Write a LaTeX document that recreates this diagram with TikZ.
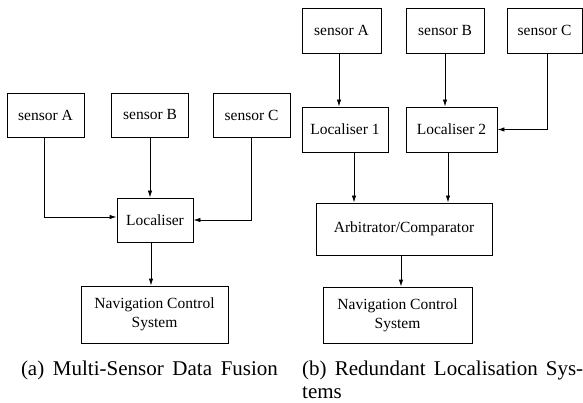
\documentclass[tikz,border=0pt]{standalone}
\usepackage{fontspec}
\setmainfont{Liberation Serif}
\usetikzlibrary{arrows.meta,calc}
\begin{document}
\begin{tikzpicture}[x=1pt,y=-1pt,
  box/.style={draw, line width=0.9pt, inner sep=0pt, font=\fontsize{15.5}{19}\selectfont, align=center},
  conn/.style={draw, line width=0.9pt, -{Latex[length=7pt,width=4.5pt]}},
  captext/.style={inner sep=0pt, font=\fontsize{21}{23.5}\selectfont}
]
\useasboundingbox (0,0) rectangle (583,403);
% (a) Multi-Sensor Data Fusion
\node[box, minimum width=77pt, minimum height=44pt] (lsa) at (45.5,115) {sensor A};
\node[box, minimum width=77pt, minimum height=44pt] (lsb) at (150,115) {sensor B};
\node[box, minimum width=77pt, minimum height=44pt] (lsc) at (251.5,115) {sensor C};
\node[box, minimum width=76pt, minimum height=44pt] (loc) at (155,220) {Localiser};
\node[box, minimum width=147pt, minimum height=57pt] (lncs) at (154.5,314.5) {Navigation Control\\System};
\draw[conn] ([xshift=-1.5pt]lsa.south) |- ([yshift=3pt]loc.west);
\draw[conn] (lsb.south) -- (lsb.south |- loc.north);
\draw[conn] (lsc.south) |- (loc.east);
\draw[conn] ([xshift=-4pt]loc.south) -- ([xshift=-4pt]loc.south |- lncs.north);
% (b) Redundant Localisation Systems
\node[box, minimum width=79pt, minimum height=45pt] (rsa) at (341.5,30.5) {sensor A};
\node[box, minimum width=78pt, minimum height=45pt] (rsb) at (445,30.5) {sensor B};
\node[box, minimum width=75pt, minimum height=45pt] (rsc) at (544.5,30.5) {sensor C};
\node[box, minimum width=86pt, minimum height=45pt] (l1) at (345,129.5) {Localiser 1};
\node[box, minimum width=91pt, minimum height=45pt] (l2) at (451.5,129.5) {Localiser 2};
\node[box, minimum width=176pt, minimum height=52pt] (arb) at (404,229) {Arbitrator/Comparator};
\node[box, minimum width=149pt, minimum height=56pt] (rncs) at (397.5,315) {Navigation Control\\System};
\draw[conn] ([xshift=-2.5pt]rsa.south) -- ([xshift=-2.5pt]rsa.south |- l1.north);
\draw[conn] (rsb.south) -- (rsb.south |- l2.north);
\draw[conn] ([xshift=2.5pt]rsc.south) |- (l2.east);
\draw[conn] ([xshift=9pt]l1.south) -- ([xshift=9pt]l1.south |- arb.north);
\draw[conn] ([xshift=-3.5pt]l2.south) -- ([xshift=-3.5pt]l2.south |- arb.north);
\draw[conn] ([xshift=-3pt]arb.south) -- ([xshift=-3pt]arb.south |- rncs.north);
% captions
\node[captext, anchor=base] (capa) at (149.5,375) {\hbox to 257pt{(a) Multi-Sensor Data Fusion}};
\node[captext, anchor=base west] (capb) at (302,375) {\vtop{\hsize=281pt\parindent=0pt\noindent (b) Redundant Localisation Sys-\linebreak tems}};
\end{tikzpicture}
\end{document}
